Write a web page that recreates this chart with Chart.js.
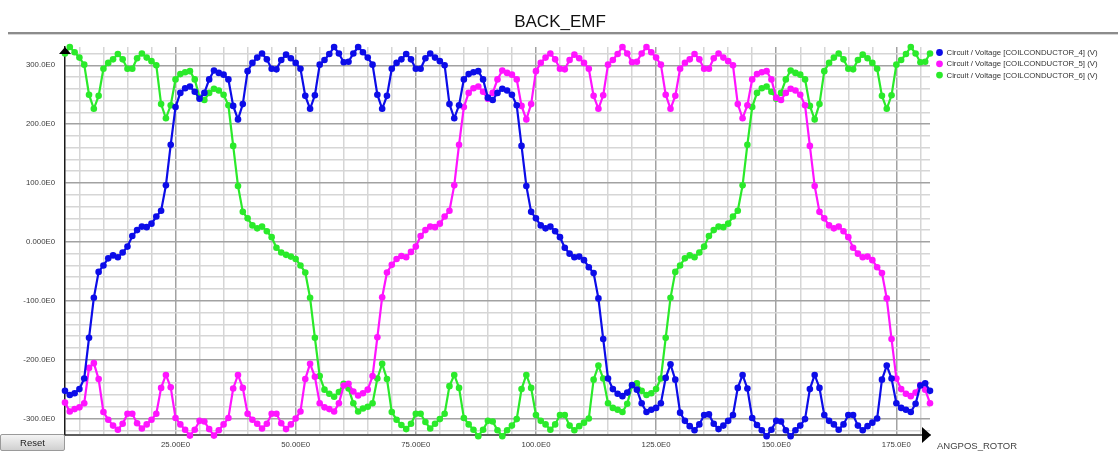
<!DOCTYPE html>
<html>
<head>
<meta charset="utf-8">
<title>BACK_EMF</title>
<script src="https://cdn.jsdelivr.net/npm/chart.js@4.4.1/dist/chart.umd.min.js"></script>
<style>
  html, body { margin: 0; padding: 0; background: #fff; overflow: hidden; }
  #wrap { position: relative; width: 1118px; height: 451px; }
  #c { position: absolute; left: 0; top: 0; }
  #reset {
    position: absolute; left: 0; top: 434px; width: 65px; height: 17px;
    margin: 0; padding: 0;
    font: 9.5px "Liberation Sans", Arial, sans-serif; color: #222;
    background: linear-gradient(#f4f4f4, #d0d0d0);
    border: 1px solid #9a9a9a; border-radius: 2px;
  }
</style>
</head>
<body>
<div id="wrap">
  <canvas id="c" width="1118" height="451"></canvas>
  <button id="reset">Reset</button>
</div>
<script>
// Rotor angle samples (degrees), one per simulation step
const ANGLE_FIRST = 2;
const angles = Array.from({ length: 181 }, (_, i) => ANGLE_FIRST + i);

const TITLE = 'BACK_EMF';
const X_TITLE = 'ANGPOS_ROTOR';
const seriesNames = [
  'Circuit / Voltage [COILCONDUCTOR_4] (V)',
  'Circuit / Voltage [COILCONDUCTOR_5] (V)',
  'Circuit / Voltage [COILCONDUCTOR_6] (V)'
];

// Coil voltages (V) at each angle
const coil4 = [
  -253, -260, -257, -250, -232, -163, -95, -51, -40, -28,
  -23, -26, -18, -8, 10, 20, 26, 25, 31, 43,
  53, 96, 165, 229, 253, 261, 264, 255, 243, 253,
  276, 291, 287, 284, 276, 231, 208, 234, 290, 304,
  313, 320, 310, 294, 293, 309, 318, 312, 304, 294,
  248, 226, 249, 301, 309, 319, 331, 320, 305, 306,
  320, 331, 322, 313, 301, 250, 226, 248, 294, 304,
  310, 319, 310, 294, 294, 312, 320, 313, 307, 300,
  234, 210, 232, 276, 285, 288, 290, 276, 245, 241,
  253, 260, 257, 250, 232, 163, 95, 51, 40, 28,
  23, 26, 18, 8, -10, -20, -26, -25, -31, -43,
  -53, -96, -165, -232, -250, -258, -262, -256, -243, -251,
  -274, -289, -285, -282, -274, -231, -208, -234, -290, -304,
  -313, -320, -310, -294, -293, -309, -318, -312, -304, -294,
  -248, -226, -249, -299, -311, -320, -330, -319, -304, -305,
  -320, -330, -320, -312, -301, -250, -226, -248, -294, -304,
  -310, -319, -310, -294, -294, -312, -320, -313, -307, -300,
  -234, -210, -232, -274, -282, -285, -289, -275, -244, -240,
  -253
];

const coil5 = [
  -273, -288, -284, -281, -274, -214, -206, -233, -289, -302,
  -312, -319, -309, -292, -292, -308, -317, -310, -302, -292,
  -248, -226, -247, -299, -310, -319, -329, -319, -304, -305,
  -318, -329, -320, -310, -299, -249, -226, -248, -292, -302,
  -309, -317, -309, -292, -292, -308, -318, -310, -300, -288,
  -233, -207, -229, -274, -281, -284, -288, -274, -244, -241,
  -254, -261, -257, -251, -228, -162, -94, -52, -39, -29,
  -24, -26, -17, -8, 10, 20, 26, 25, 31, 43,
  53, 96, 165, 229, 253, 261, 264, 255, 243, 253,
  276, 291, 287, 284, 276, 231, 208, 234, 290, 304,
  313, 320, 310, 294, 293, 309, 318, 312, 304, 294,
  248, 226, 249, 301, 309, 319, 331, 320, 305, 306,
  320, 331, 322, 313, 301, 250, 226, 248, 294, 304,
  310, 319, 310, 294, 294, 312, 320, 313, 307, 300,
  234, 210, 232, 276, 285, 288, 290, 276, 245, 241,
  253, 260, 257, 250, 232, 163, 95, 51, 40, 28,
  23, 26, 18, 8, -10, -20, -26, -25, -31, -43,
  -53, -96, -165, -232, -250, -258, -262, -256, -243, -251,
  -274
];

const coil6 = [
  320, 331, 322, 313, 301, 250, 226, 248, 294, 304,
  310, 319, 310, 294, 294, 312, 320, 313, 307, 300,
  234, 210, 232, 276, 285, 288, 290, 276, 245, 241,
  253, 260, 257, 250, 232, 163, 95, 51, 40, 28,
  23, 26, 18, 8, -10, -18, -22, -25, -29, -40,
  -52, -95, -163, -228, -251, -258, -263, -255, -241, -249,
  -274, -288, -283, -280, -274, -232, -207, -233, -289, -302,
  -311, -318, -309, -292, -292, -306, -317, -309, -301, -292,
  -245, -226, -248, -299, -310, -319, -330, -319, -304, -305,
  -320, -330, -320, -312, -301, -250, -226, -248, -294, -304,
  -310, -319, -310, -294, -294, -312, -320, -313, -307, -300,
  -234, -210, -232, -274, -282, -285, -289, -275, -244, -240,
  -253, -260, -257, -250, -232, -163, -95, -51, -40, -28,
  -23, -26, -18, -8, 10, 20, 26, 25, 31, 43,
  53, 96, 165, 229, 253, 261, 264, 255, 243, 253,
  276, 291, 287, 284, 276, 231, 208, 234, 290, 304,
  313, 320, 310, 294, 293, 309, 318, 312, 304, 294,
  248, 226, 249, 301, 309, 319, 331, 320, 305, 306,
  320
];

const seriesColors = ['#0c0ce8', '#ff14ff', '#2aea2a'];

const FONT = '"Liberation Sans", Arial, Helvetica, sans-serif';

function toPoints(values) {
  return values.map((v, i) => ({ x: angles[i], y: v }));
}

function sciLabel(v) {
  return Number(v).toPrecision(4) + 'E0';
}

function stepTicks(from, to, step) {
  const out = [];
  for (let v = from; v <= to + 1e-9; v += step) out.push({ value: v });
  return out;
}

// Title, header rule, axis arrows, axis name and legend
const decorations = {
  id: 'decorations',
  afterDraw(chart) {
    const { ctx, chartArea: a } = chart;
    ctx.save();

    ctx.fillStyle = '#8c8c8c';
    ctx.fillRect(8, 32, 1110, 2);
    ctx.fillStyle = '#d6d6d6';
    ctx.fillRect(8, 34, 1110, 1);

    ctx.font = '17px ' + FONT;
    ctx.fillStyle = '#111';
    ctx.textAlign = 'center';
    ctx.textBaseline = 'alphabetic';
    ctx.fillText(TITLE, 560, 27);

    // arrow heads on the axes
    ctx.fillStyle = '#000';
    ctx.beginPath();
    ctx.moveTo(a.left, a.top);
    ctx.lineTo(a.left - 6, a.top + 7);
    ctx.lineTo(a.left + 6, a.top + 7);
    ctx.closePath();
    ctx.fill();

    ctx.beginPath();
    ctx.moveTo(a.right + 1, a.bottom);
    ctx.lineTo(a.right - 8, a.bottom - 8);
    ctx.lineTo(a.right - 8, a.bottom + 8);
    ctx.closePath();
    ctx.fill();

    ctx.font = '9.5px ' + FONT;
    ctx.fillStyle = '#444';
    ctx.textAlign = 'left';
    ctx.textBaseline = 'alphabetic';
    ctx.fillText(X_TITLE, 937, 449);

    // legend
    ctx.font = '7.8px ' + FONT;
    ctx.textBaseline = 'middle';
    chart.data.datasets.forEach((ds, i) => {
      const y = 52.5 + i * 11.3;
      ctx.fillStyle = ds.borderColor;
      ctx.beginPath();
      ctx.arc(939.5, y, 3.4, 0, Math.PI * 2);
      ctx.fill();
      ctx.fillStyle = '#333';
      ctx.fillText(ds.label, 946.5, y + 0.5);
    });

    ctx.restore();
  }
};

const datasets = [coil4, coil5, coil6].map((vals, i) => ({
  label: seriesNames[i],
  data: toPoints(vals),
  borderColor: seriesColors[i],
  backgroundColor: seriesColors[i],
  borderWidth: 2.2,
  pointRadius: 3.3,
  pointHoverRadius: 3.3,
  pointBorderWidth: 0,
  tension: 0,
  clip: 8
}));

new Chart(document.getElementById('c'), {
  type: 'line',
  data: { datasets },
  options: {
    responsive: false,
    devicePixelRatio: 1,
    animation: false,
    events: [],
    layout: { padding: { left: 0, top: 47, right: 188, bottom: 0 } },
    plugins: {
      legend: { display: false },
      title: { display: false },
      tooltip: { enabled: false }
    },
    scales: {
      x: {
        type: 'linear',
        min: 2,
        max: 182,
        afterBuildTicks(scale) { scale.ticks = stepTicks(5, 180, 5); },
        afterFit(scale) { scale.height = 16; },
        grid: {
          drawTicks: false,
          lineWidth: 1.5,
          color: (c) => (c.tick && c.tick.value % 25 === 0) ? '#a2a2a2' : '#d6d6d6'
        },
        border: { display: true, color: '#5e5e5e', width: 2 },
        ticks: {
          autoSkip: false,
          maxRotation: 0,
          padding: 5,
          color: '#3a3a3a',
          font: { family: FONT, size: 7.8 },
          callback: (v) => (v % 25 === 0 ? sciLabel(v) : '')
        }
      },
      y: {
        type: 'linear',
        min: -328,
        max: 331,
        afterBuildTicks(scale) { scale.ticks = stepTicks(-320, 320, 20); },
        afterFit(scale) { scale.width = 65; },
        grid: {
          drawTicks: false,
          lineWidth: 1.5,
          color: (c) => (c.tick && c.tick.value % 100 === 0) ? '#a2a2a2' : '#d6d6d6'
        },
        border: { display: true, color: '#1a1a1a', width: 1.5 },
        ticks: {
          autoSkip: false,
          padding: 10,
          color: '#3a3a3a',
          font: { family: FONT, size: 7.8 },
          callback: (v) => (v % 100 === 0 ? sciLabel(v) : '')
        }
      }
    }
  },
  plugins: [decorations]
});
</script>
</body>
</html>
